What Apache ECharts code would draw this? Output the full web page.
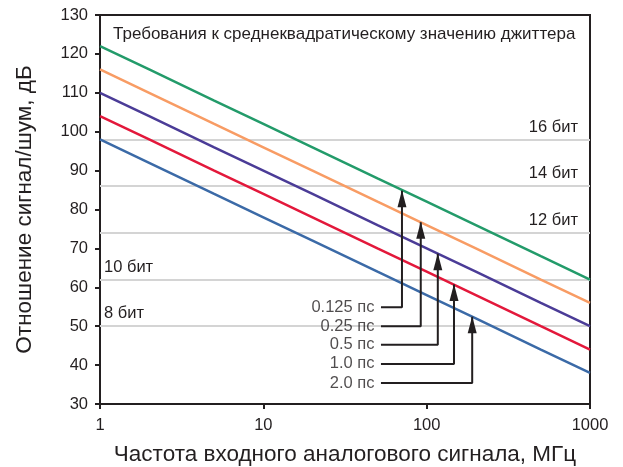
<!DOCTYPE html>
<html>
<head>
<meta charset="utf-8">
<script src="https://cdn.jsdelivr.net/npm/echarts@6/dist/echarts.min.js"></script>
<style>
  html, body { margin: 0; padding: 0; background: #fff; }
  #chart { width: 623px; height: 467px; }
</style>
</head>
<body>
<div id="chart"></div>
<script>
// частоты, МГц
const freqs = [1, 2, 5, 10, 20, 50, 100, 200, 500, 1000];

// SNR, дБ для каждого джиттера
const snr0125 = [122, 116, 108, 102, 96, 88, 82, 76, 68, 62];
const snr025 = [116, 110, 102, 96, 90, 82, 76, 70, 62, 56];
const snr05 = [110, 104, 96, 90, 84, 76, 70, 64, 56, 50];
const snr10 = [104, 98, 90, 84, 78, 70, 64, 58, 50, 44];
const snr20 = [98, 92, 84, 78, 72, 64, 58, 52, 44, 38];

// уровни разрядности
const bitLabels = ["16 бит", "14 бит", "12 бит", "10 бит", "8 бит"];
const bitLevels = [98, 86, 74, 62, 50];

// подписи со стрелками
const jitterLabels = ["0.125 пс", "0.25 пс", "0.5 пс", "1.0 пс", "2.0 пс"];
const labelY = [54.9, 50.0, 45.2, 40.3, 35.4];
const arrowX = [70.6, 92, 117, 147, 190];
const arrowTipY = [84.8, 76.7, 68.6, 60.7, 52.4];
const labelStartX = 52.5;

const colors = ["#239b6a", "#f89c64", "#4b3c97", "#e3183b", "#3b6aa7"];
const seriesData = [snr0125, snr025, snr05, snr10, snr20];

const textColor = "#231f20";
const font = "'Liberation Sans', Arial, sans-serif";

const chart = echarts.init(document.getElementById("chart"));

const series = [];

// линии уровней разрядности
series.push({
  type: "line",
  data: [],
  silent: true,
  z: 1,
  markLine: {
    silent: true,
    z: 1,
    symbol: "none",
    lineStyle: { color: "#d4d4d4", width: 2, type: "solid" },
    label: { color: textColor, fontSize: 16.5, fontFamily: font },
    data: bitLevels.map((v, i) => ({
      yAxis: v,
      label: {
        formatter: bitLabels[i],
        position: i < 3 ? "insideEndTop" : "insideStartTop",
        distance: i < 3 ? [12, 4] : [4, 4]
      }
    }))
  }
});

seriesData.forEach((d, i) => {
  series.push({
    type: "line",
    data: freqs.map((f, k) => [f, d[k]]),
    symbol: "none",
    lineStyle: { color: colors[i], width: 2.5 },
    z: 3
  });
});

// стрелки
jitterLabels.forEach((t, i) => {
  series.push({
    type: "line",
    symbol: "none",
    lineStyle: { color: textColor, width: 2 },
    z: 6,
    data: [
      [labelStartX, labelY[i]],
      [arrowX[i], labelY[i]],
      {
        value: [arrowX[i], arrowTipY[i]],
        symbol: "triangle",
        symbolSize: [9, 17],
        symbolOffset: [0, 8],
        itemStyle: { color: textColor }
      }
    ]
  });
});

// подписи стрелок
series.push({
  type: "scatter",
  symbolSize: 1,
  itemStyle: { color: "rgba(0,0,0,0)" },
  z: 7,
  data: jitterLabels.map((t, i) => [labelStartX, labelY[i], t]),
  label: {
    show: true,
    position: "left",
    distance: 6,
    formatter: p => p.value[2],
    color: textColor,
    fontSize: 16.5,
    fontFamily: font
  }
});

chart.setOption({
  animation: false,
  textStyle: { fontFamily: font },
  grid: {
    left: 100,
    top: 15,
    right: 33,
    bottom: 63,
    outerBoundsMode: "none",
    containLabel: false,
    show: true,
    borderColor: textColor,
    borderWidth: 2
  },
  title: {
    text: "Требования к среднеквадратическому значению джиттера",
    left: 108,
    top: 21,
    textStyle: { color: textColor, fontSize: 17, fontWeight: "normal", fontFamily: font }
  },
  xAxis: {
    type: "log",
    logBase: 10,
    min: 1,
    max: 1000,
    name: "Частота входного аналогового сигнала, МГц",
    nameLocation: "middle",
    nameGap: 39,
    nameTextStyle: { color: textColor, fontSize: 22.5, fontFamily: font },
    axisLine: { lineStyle: { color: textColor, width: 2 } },
    axisTick: { show: true, length: 5, lineStyle: { color: textColor, width: 2 } },
    axisLabel: { color: textColor, fontSize: 16.5, margin: 13, formatter: v => String(v) },
    minorTick: { show: false },
    splitLine: { show: false }
  },
  yAxis: {
    type: "value",
    min: 30,
    max: 130,
    interval: 10,
    name: "Отношение сигнал/шум, дБ",
    nameLocation: "middle",
    nameGap: 64,
    nameTextStyle: { color: textColor, fontSize: 22.5, fontFamily: font },
    axisLine: { show: true, lineStyle: { color: textColor, width: 2 } },
    axisTick: { show: true, length: 5, lineStyle: { color: textColor, width: 2 } },
    axisLabel: { color: textColor, fontSize: 16.5, margin: 12 },
    splitLine: { show: false }
  },
  series
});
</script>
</body>
</html>
